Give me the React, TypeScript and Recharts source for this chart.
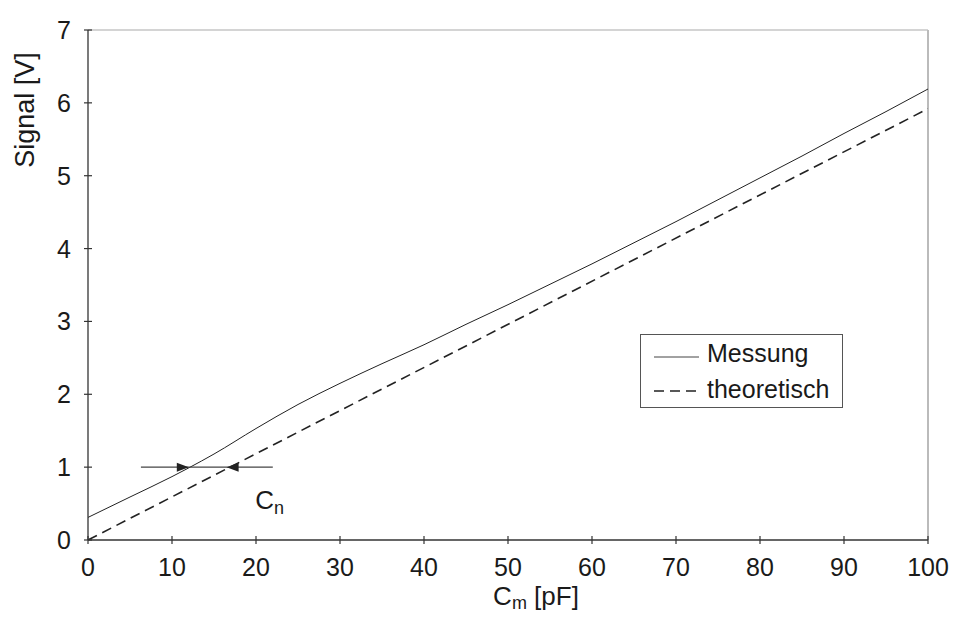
import React from "react";
import { LineChart, Line, XAxis, YAxis, ReferenceLine, ReferenceDot, Legend } from "recharts";

// Messung (gemessen) und theoretische Kennlinie
const messungX = [0, 5, 10, 12, 15, 20, 25, 30, 35, 40, 45, 50, 55, 60, 65, 70, 75, 80, 85, 90, 95, 100];
const messungY = [0.31, 0.59, 0.87, 0.99, 1.18, 1.53, 1.86, 2.15, 2.42, 2.68, 2.96, 3.23, 3.51, 3.79, 4.08, 4.37, 4.67, 4.97, 5.27, 5.58, 5.88, 6.19];
const theoX = [0, 100];
const theoY = [0, 5.92];

const xTicks = [0, 10, 20, 30, 40, 50, 60, 70, 80, 90, 100];
const yTicks = [0, 1, 2, 3, 4, 5, 6, 7];

// C_n Markierung: horizontale Linie bei 1 V mit zwei Pfeilen
const cnLineX = [6.3, 22];
const cnLevel = 1;
const arrowRightX = 12;
const arrowLeftX = 16.5;
const cnLabelPos = { x: 19.9, y: 0.43 };

const legendItems = [
  { name: "Messung", dash: undefined as string | undefined },
  { name: "theoretisch", dash: "10 6" },
];

const messung = messungX.map((x, i) => ({ x, y: messungY[i] }));
const theo = theoX.map((x, i) => ({ x, y: theoY[i] }));

const FONT = '"Liberation Sans", Arial, sans-serif';
const INK = "#1a1a1a";

const XTick = (props: any) => {
  const { x, y, payload } = props;
  return (
    <g>
      <line x1={x} x2={x} y1={y - 4} y2={y + 4} stroke="#333" strokeWidth={1.2} />
      <text x={x} y={y + 36} textAnchor="middle" fontSize={25} fill={INK} fontFamily={FONT}>
        {payload.value}
      </text>
    </g>
  );
};

const YTick = (props: any) => {
  const { x, y, payload } = props;
  return (
    <g>
      <line x1={x - 4} x2={x + 4} y1={y} y2={y} stroke="#333" strokeWidth={1.2} />
      <text x={x - 17} y={y + 9} textAnchor="end" fontSize={25} fill={INK} fontFamily={FONT}>
        {payload.value}
      </text>
    </g>
  );
};

const arrow = (dir: number) => (p: any) => {
  const { cx, cy } = p;
  return <path d={`M${cx},${cy} L${cx - dir * 12},${cy - 4.5} L${cx - dir * 12},${cy + 4.5} Z`} fill="#222" />;
};

const CnLabel = (p: any) => (
  <text x={p.cx} y={p.cy} fontSize={26} fill={INK} fontFamily={FONT}>
    C<tspan fontSize={18} dy={5}>n</tspan>
  </text>
);

const LegendBox = () => (
  <div
    style={{
      width: 203,
      height: 74,
      border: "1px solid #555",
      background: "#fff",
      boxSizing: "border-box",
    }}
  >
    <svg width={201} height={72} style={{ display: "block" }}>
      {legendItems.map((it, i) => (
        <g key={it.name}>
          <line
            x1={13}
            x2={58}
            y1={22 + i * 34}
            y2={22 + i * 34}
            stroke={i === 0 ? "#444" : "#222"}
            strokeWidth={i === 0 ? 1 : 1.6}
            strokeDasharray={it.dash}
          />
          <text x={66} y={27 + i * 36} fontSize={25} fill={INK} fontFamily={FONT}>
            {it.name}
          </text>
        </g>
      ))}
    </svg>
  </div>
);

export default function App() {
  return (
    <div style={{ position: "absolute", left: 0, top: 0, width: 954, height: 617, background: "#fff" }}>
      <LineChart width={954} height={617} margin={{ top: 30, right: 26, bottom: 0, left: 0 }}>
        <XAxis
          type="number"
          dataKey="x"
          domain={[0, 100]}
          ticks={xTicks}
          tickSize={0}
          tickMargin={0}
          tickLine={false}
          tick={<XTick />}
          axisLine={{ stroke: "#333", strokeWidth: 1.3 }}
          height={77}
          allowDataOverflow
          label={{
            content: () => (
              <text x={536} y={605} textAnchor="middle" fontSize={26} fill={INK} fontFamily={FONT}>
                C<tspan fontSize={18} dy={4}>m</tspan>
                <tspan dy={-4}> [pF]</tspan>
              </text>
            ),
          }}
        />
        <YAxis
          type="number"
          domain={[0, 7]}
          ticks={yTicks}
          tickSize={0}
          tickMargin={0}
          tickLine={false}
          tick={<YTick />}
          axisLine={{ stroke: "#333", strokeWidth: 1.3 }}
          width={88}
          allowDataOverflow
          label={{
            content: () => (
              <text
                x={34}
                y={110}
                transform="rotate(-90 34 110)"
                textAnchor="middle"
                fontSize={27}
                fill={INK}
                fontFamily={FONT}
              >
                Signal [V]
              </text>
            ),
          }}
        />
        <ReferenceLine y={7} stroke="#aaa" strokeWidth={1.2} />
        <ReferenceLine x={100} stroke="#bbb" strokeWidth={2} />
        <Line
          data={messung}
          dataKey="y"
          name="Messung"
          stroke="#222"
          strokeWidth={1}
          dot={false}
          type="monotone"
          isAnimationActive={false}
        />
        <Line
          data={theo}
          dataKey="y"
          name="theoretisch"
          stroke="#222"
          strokeWidth={1.6}
          strokeDasharray="10 6"
          dot={false}
          type="linear"
          isAnimationActive={false}
        />
        <ReferenceLine
          segment={[
            { x: cnLineX[0], y: cnLevel },
            { x: cnLineX[1], y: cnLevel },
          ]}
          stroke="#444"
          strokeWidth={1.3}
        />
        <ReferenceDot x={arrowRightX} y={cnLevel} shape={arrow(1)} />
        <ReferenceDot x={arrowLeftX} y={cnLevel} shape={arrow(-1)} />
        <ReferenceDot x={cnLabelPos.x} y={cnLabelPos.y} shape={CnLabel} />
        <Legend
          layout="vertical"
          align="center"
          verticalAlign="middle"
          content={() => <LegendBox />}
          wrapperStyle={{ left: 640, top: 334, width: 203, height: 74 }}
        />
      </LineChart>
    </div>
  );
}
